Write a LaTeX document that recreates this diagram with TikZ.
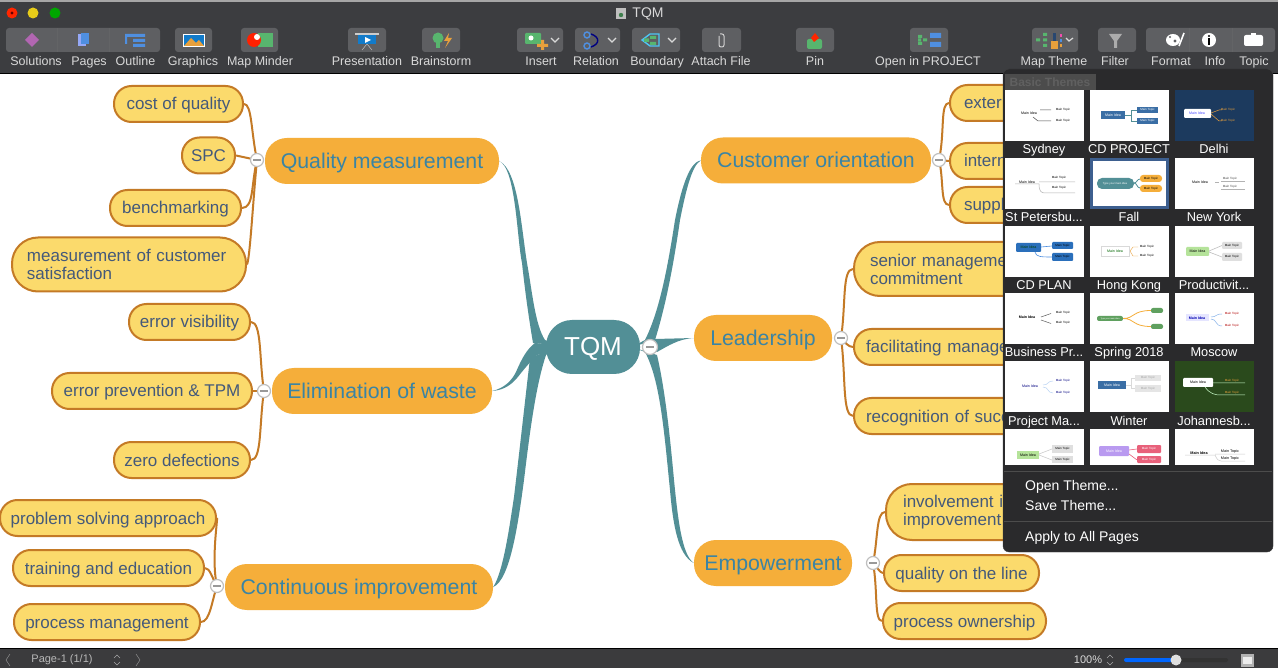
\documentclass[tikz,border=0pt]{standalone}
\usepackage{fontspec}
\setmainfont{Liberation Sans}
\usetikzlibrary{calc}
\pgfdeclarelayer{bg}
\pgfsetlayers{bg,main}
\definecolor{teal}{HTML}{528F96}
\definecolor{twigc}{HTML}{C47A26}
\definecolor{leaff}{HTML}{FBDA6C}
\definecolor{mainf}{HTML}{F5AE3A}
\definecolor{leaft}{HTML}{44597A}
\definecolor{maint}{HTML}{3A84A4}
\definecolor{barc}{HTML}{3C3D40}
\definecolor{btnc}{HTML}{5E5F62}
\definecolor{lblc}{HTML}{D9D9D9}
\definecolor{popc}{HTML}{2A2A2C}
\definecolor{icb}{HTML}{4F8FE0}
\definecolor{icg}{HTML}{58B56E}
\definecolor{ico}{HTML}{E8A03C}
\definecolor{thnavy}{HTML}{1C3A5E}
\definecolor{thjo}{HTML}{2A4A1C}
\definecolor{thcdp}{HTML}{3A6EA5}
\definecolor{thcdl}{HTML}{2A6FBB}
\definecolor{thgrn}{HTML}{B5E39A}
\definecolor{thpur}{HTML}{B99AF0}
\definecolor{thpnk}{HTML}{E8607A}
\definecolor{thsel}{HTML}{3D5F8F}
\definecolor{thspr}{HTML}{5FA05F}
\newcommand\dd{...}
\newcounter{nn}
\newcommand\T[4]{\stepcounter{nn}\node[inner sep=0pt,text=#3,font=\fontsize{#4}{#4}\selectfont] (n\arabic{nn}) at (#1) {#2};}
\newcommand\TB[4]{\stepcounter{nn}\node[inner sep=0pt,text=#3,font=\fontsize{#4}{#4}\selectfont\bfseries] (n\arabic{nn}) at (#1) {#2};}
\newcommand\BT[3]{\fill[#3] (#1) rectangle (#2);}
\newcommand\BB[3]{\fill[#3,rounded corners=1pt] (#1) rectangle (#2);}
\newcommand\Mi[2]{\T{#1}{Main Idea}{#2}{3.6}}
\newcommand\Mt[2]{\T{#1}{Main Topic}{#2}{3}}
\newcommand\Thumb[4]{%
  \fill[#3] (#1,#2) rectangle +(79,51);
  \begin{scope}[shift={(#1,#2)}]#4\end{scope}}
\newcommand\Thumbs[4]{%
  \fill[#3] (#1,#2) rectangle +(79,36);
  \begin{scope}[shift={(#1,#2)}]#4\end{scope}}
\newcommand\Btn[2]{\fill[btnc,rounded corners=3pt] (#1,28) rectangle (#2,52);}
\tikzset{
  leaf/.style={draw=twigc,line width=2pt,fill=leaff,rounded corners=17.5pt,minimum height=36pt,inner sep=0pt,text height=16pt,text depth=4pt,text=leaft,font=\fontsize{17}{18}\selectfont},
  twolines/.style={text height={},text depth={},rounded corners=26pt,minimum height=54pt,align=left},
  topic/.style={fill=mainf,rounded corners=22pt,minimum height=46pt,inner sep=0pt,text height=20pt,text depth=5pt,text=maint,font=\fontsize{21.3}{24}\selectfont},
  hub/.style={fill=teal,rounded corners=26pt,minimum height=54pt,minimum width=94pt,inner sep=0pt,text height=22pt,text depth=4pt,text=white,font=\fontsize{26}{28}\selectfont},
  collapse/.style={circle,draw=gray!50,line width=1.2pt,fill=white,minimum size=13pt,inner sep=0pt,
    path picture={\fill[gray!80] ($(path picture bounding box.center)+(-4,-1)$) rectangle ($(path picture bounding box.center)+(4,1)$);}},
  twig/.style={draw=twigc,line width=2pt},
  taper/.style={fill=teal}
}
\begin{document}
\begin{tikzpicture}[x=1pt,y=-1pt]
\useasboundingbox (0,0) rectangle (1278,668);
\begin{pgfonlayer}{bg}
\fill[white] (0,0) rectangle (1278,668);
\end{pgfonlayer}

% ---- hub and topics
\node[hub] (tqm) at (593,347) {TQM};
\node[topic,minimum width=234pt] (q) at (382,161) {Quality measurement};
\node[topic,minimum width=220pt] (e) at (382,391) {Elimination of waste};
\node[topic,minimum width=268pt] (c) at (359,587) {Continuous improvement};
\node[topic,minimum width=230pt] (co) at (816,160.5) {Customer orientation};
\node[topic,minimum width=138pt] (l) at (763,338) {Leadership};
\node[topic,minimum width=158pt] (em) at (773,563) {Empowerment};

% ---- leaves, left
\node[leaf,minimum width=129pt] (a1) at (178.5,104) {cost of quality};
\node[leaf,minimum width=53pt] (a2) at (208.5,155.5) {SPC};
\node[leaf,minimum width=131pt] (a3) at (175.5,208) {benchmarking};
\node[leaf,twolines,anchor=west,inner xsep=15pt,text width=204pt] (a4) at (11,264.5) {measurement of customer\\satisfaction};
\node[leaf,minimum width=121pt] (a5) at (189.5,322) {error visibility};
\node[leaf,minimum width=200pt] (a6) at (152,391) {error prevention \& TPM};
\node[leaf,minimum width=136pt] (a7) at (182,460) {zero defections};
\node[leaf,minimum width=216pt] (a8) at (108,518) {problem solving approach};
\node[leaf,minimum width=191pt] (a9) at (108.5,568) {training and education};
\node[leaf,minimum width=186pt] (a10) at (107,622) {process management};

% ---- leaves, right (their right parts lie under the theme panel)
\node[leaf,anchor=west,inner xsep=14pt,text width=123pt,align=left] (b1) at (949,103) {exter};
\node[leaf,anchor=west,inner xsep=14pt,text width=123pt,align=left] (b2) at (949,161) {intern};
\node[leaf,anchor=west,inner xsep=14pt,text width=123pt,align=left] (b3) at (949,205) {suppl};
\node[leaf,twolines,anchor=west,inner xsep=16pt,text width=200pt] (b4) at (853,269) {senior manageme\\commitment};
\node[leaf,anchor=west,inner xsep=12pt,text width=210pt,align=left] (b5) at (853,347) {facilitating manage};
\node[leaf,anchor=west,inner xsep=12pt,text width=210pt,align=left] (b6) at (853,416) {recognition of succ};
\node[leaf,twolines,anchor=west,minimum height=56pt,inner xsep=17pt,text width=180pt] (b7) at (885,512) {involvement i\\improvement};
\node[leaf,minimum width=155pt] (b8) at (961.5,573) {quality on the line};
\node[leaf,minimum width=163pt] (b9) at (964.5,621) {process ownership};

% ---- collapse buttons
\node[collapse] (c1) at (257,160) {};
\node[collapse] (c2) at (264,391) {};
\node[collapse] (c3) at (217,586) {};
\node[collapse] (c4) at (939,160) {};
\node[collapse] (c5) at (841,338) {};
\node[collapse] (c6) at (873,563) {};
\node[collapse,minimum size=15pt] (c0) at (650,347) {};

\begin{pgfonlayer}{bg}
% tapered main branches
\fill[taper] (q.east) .. controls (516,168) and (517,240) .. (522,263) .. controls (526,300) and (530,325) .. (533,343) -- (555,345) -- (545,340) .. controls (535,325) and (532,290) .. (527,263) .. controls (521,225) and (518,170) .. (q.east) -- cycle;
\fill[taper] (e.east) .. controls (505,388) and (512,380) .. (516,372) .. controls (522,358) and (527,349) .. (535,343) -- (555,345) -- (550,352) -- (537,355) .. controls (530,362) and (526,367) .. (521,373) .. controls (513,384) and (505,390) .. (e.east) -- cycle;
\fill[taper] (c.east) .. controls (503,572) and (509,530) .. (514,497) .. controls (519,455) and (524,410) .. (530,358) -- (555,348) -- (546,355) .. controls (536,385) and (530,430) .. (524,480) .. controls (518,525) and (510,580) .. (c.east) -- cycle;
\fill[taper] (co.west) .. controls (688,162) and (680,195) .. (675,220) .. controls (668,265) and (660,310) .. (645,340) -- (632,347) -- (655,340) .. controls (666,305) and (674,262) .. (680,220) .. controls (686,190) and (692,165) .. (co.west) -- cycle;
\fill[taper] (l.west) -- (655,339) -- (645,350) -- (657,352) .. controls (668,346) and (678,339) .. (l.west) -- cycle;
\fill[taper] (em.west) .. controls (678,555) and (673,525) .. (670,490) .. controls (664,430) and (660,380) .. (645,352) -- (632,347) -- (657,355) .. controls (664,385) and (669,425) .. (674,480) .. controls (678,520) and (682,555) .. (em.west) -- cycle;
% twigs
\draw[twig] (c1.center) .. controls (251,132) and (252,104) .. (a1.east);
\draw[twig] (c1.center) -- (a2.east);
\draw[twig] (c1.center) .. controls (251,185) and (254,208) .. (a3.east);
\draw[twig] (c1.center) .. controls (253,200) and (250,258) .. (a4.east);
\draw[twig] (c2.center) .. controls (259,360) and (262,322) .. (a5.east);
\draw[twig] (c2.center) -- (a6.east);
\draw[twig] (c2.center) .. controls (259,425) and (262,460) .. (a7.east);
\draw[twig] (c3.center) .. controls (211,560) and (218,518) .. (a8.east);
\draw[twig] (c3.center) .. controls (212,578) and (210,568) .. (a9.east);
\draw[twig] (c3.center) .. controls (212,600) and (210,622) .. (a10.east);
\draw[twig] (c4.center) .. controls (945,132) and (940,103) .. (b1.west);
\draw[twig] (c4.center) -- (b2.west);
\draw[twig] (c4.center) .. controls (944,180) and (940,205) .. (b3.west);
\draw[twig] (c5.center) .. controls (846,305) and (842,269) .. (b4.west);
\draw[twig] (c5.center) .. controls (845,342) and (848,347) .. (b5.west);
\draw[twig] (c5.center) .. controls (846,375) and (842,416) .. (b6.west);
\draw[twig] (c6.center) .. controls (878,540) and (876,512) .. (b7.west);
\draw[twig] (c6.center) .. controls (877,567) and (880,573) .. (b8.west);
\draw[twig] (c6.center) .. controls (878,590) and (874,621) .. (b9.west);
\end{pgfonlayer}

% ---- title bar and toolbar
\fill[barc] (0,0) rectangle (1278,73);
\fill[gray!70] (0,0) rectangle (1278,2);
\fill[black] (0,73) rectangle (1278,74.5);
\fill[red!70!orange] (12,13) circle (5.5);
\fill[red!40!black] (12,13) circle (1.6);
\fill[yellow!80!orange!90!black] (33,13) circle (5.5);
\fill[green!65!black] (55,13) circle (5.5);
\fill[gray!50] (616,8) rectangle (626,19);
\fill[icg!70!black] (621,15) circle (2.2);
\T{648,13.5}{TQM}{lblc}{14}

\fill[btnc,rounded corners=3pt] (6,28) rectangle (160,52);
\draw[barc!80!white] (57,28) -- (57,52) (109,28) -- (109,52);
\Btn{175}{212}\Btn{241}{278}\Btn{348}{386}\Btn{422}{460}
\Btn{517}{563}\Btn{575}{620}\Btn{632}{680}\Btn{702}{741}
\Btn{796}{834}\Btn{910}{948}\Btn{1032}{1078}\Btn{1098}{1136}
\fill[btnc,rounded corners=3pt] (1146,28) rectangle (1275,52);
\draw[barc!80!white] (1189,28) -- (1189,52) (1232,28) -- (1232,52);

% icons
\fill[violet!60!white] (32,33) -- (39,40) -- (32,47) -- (25,40) -- cycle;
\fill[blue!30!white!70!icb] (78,34) rectangle (86,46); \fill[icb] (81,33) rectangle (89,44);
\fill[icb] (125,34) rectangle (145,37) (133,39) rectangle (145,42) (133,44) rectangle (145,47) (125,34) rectangle (127,44);
\fill[white] (183,34) rectangle (205,47); \fill[cyan!60!blue] (184,35) rectangle (204,46);
\fill[ico] (184,46) -- (191,38) -- (196,43) -- (199,40) -- (204,46) -- cycle;
\fill[icg] (258,33) rectangle (273,47);
\fill[red!75!orange] (254,40) circle (7); \fill[white] (257,37) circle (3);
\fill[gray!40] (355,33) rectangle (379,35);
\fill[cyan!60!blue] (358,35) rectangle (376,44);
\fill[white] (365,37) -- (371,40) -- (365,43) -- cycle;
\draw[gray!40] (367,44) -- (362,50) (367,44) -- (372,50);
\fill[icg] (438,38) circle (5.5); \fill[icg] (436,43) rectangle (440,48);
\fill[ico] (449,33) -- (444,41) -- (448,41) -- (445,48) -- (452,38) -- (448,38) -- cycle;
\fill[icg,rounded corners=1pt] (525,33) rectangle (541,44); \fill[white] (531,38) circle (2.5);
\fill[ico] (541,40) rectangle (544,50) (537,44) rectangle (548,47);
\draw[lblc,line width=1.2pt] (551,38) -- (555,42) -- (559,38);
\draw[icb,line width=1.4pt] (587,35) circle (3) (587,46) circle (3);
\draw[blue!50!black,line width=1.4pt] (591,34) .. controls (600,37) and (600,44) .. (591,47);
\draw[lblc,line width=1.2pt] (608,38) -- (612,42) -- (616,38);
\draw[cyan!70!white,line width=1.4pt] (642,40) -- (650,34) -- (659,34) -- (659,46) -- (650,46) -- cycle;
\fill[icg] (650,36) rectangle (656,39) (650,42) rectangle (656,45) (644,38.5) rectangle (649,42);
\draw[lblc,line width=1.2pt] (668,38) -- (672,42) -- (676,38);
\draw[gray!35!white,line width=1pt,rounded corners=2pt] (719,36) -- (719,47) -- (724,47) -- (724,34) -- (720,34);
\fill[icg,rounded corners=2pt] (807,39) rectangle (822,49);
\fill[red!70!orange] (815,33) -- (819,38) -- (814,42) -- (811,38) -- cycle;
\fill[icg] (918,35) rectangle (922,38) (918,42) rectangle (922,45) (923,38.5) rectangle (927,41.5) (918,38.5) rectangle (921,41.5);
\fill[icb] (930,33) rectangle (941,38) (930,42) rectangle (941,47);
\fill[icg] (1036,38.5) rectangle (1040,41.5) (1043,33) rectangle (1047,36) (1043,38.5) rectangle (1047,41.5) (1043,44) rectangle (1047,47);
\fill[ico] (1051,41) rectangle (1058,49); \fill[icb!50!black] (1053,33) rectangle (1056,41);
\fill[magenta!70] (1060,34) rectangle (1062,37); \fill[icb] (1060,39) rectangle (1062,42); \fill[ico] (1060,44) rectangle (1062,47);
\draw[lblc,line width=1.2pt] (1066,38) -- (1069,41) -- (1073,38);
\fill[gray!65!white] (1109,34) -- (1122,34) -- (1117,41) -- (1117,48) -- (1114,48) -- (1114,41) -- cycle;
\fill[white] (1173,40) ellipse (7 and 6); \fill[btnc] (1175,41) circle (1.6) (1170,37) circle (1.2);
\draw[white,line width=1.6pt] (1179,46) -- (1184,33);
\fill[white] (1209,40) circle (7); \fill[black] (1208,38.5) rectangle (1210,45); \fill[black] (1209,36) circle (1.1);
\fill[white,rounded corners=2pt] (1244,35) rectangle (1263,46); \fill[white] (1251,33) rectangle (1256,37);

\foreach \nm/\px/\tx in {l1/36/Solutions,l2/89/Pages,l3/135.5/Outline,l4/193/Graphics,l5/260/Map Minder,l6/367/Presentation,l7/441/Brainstorm,l8/541/Insert,l9/596/Relation,l10/657/Boundary,l11/721/Attach File,l12/815/Pin,l13/928/Open in PROJECT,l14/1054/Map Theme,l15/1115/Filter,l16/1171/Format,l17/1215/Info,l18/1254/Topic}
  {\node[inner sep=0pt,text height=10pt,text depth=3pt,text=lblc,font=\fontsize{12.5}{14}\selectfont] (\nm) at (\px,62.5) {\tx};}

% ---- status bar
\fill[popc!80!gray] (0,649) rectangle (1278,668);
\fill[black] (0,647.5) rectangle (1278,649);
\draw[gray!70] (10,654) -- (6,660) -- (10,666);
\T{62,660}{Page-1 (1/1)}{lblc!85!black}{11}
\draw[gray!70] (114,658) -- (117,655) -- (120,658) (114,662) -- (117,665) -- (120,662);
\draw[gray!70] (136,654) -- (140,660) -- (136,666);
\T{1088,660}{100\%}{lblc}{11}
\draw[gray!70] (1107,658) -- (1110,655) -- (1113,658) (1107,662) -- (1110,665) -- (1113,662);
\fill[gray!40!black,rounded corners=2pt] (1124,658) rectangle (1228,662);
\fill[blue!60!cyan,rounded corners=2pt] (1124,658) rectangle (1176,662);
\fill[gray!25] (1176,660) circle (5.5);
\fill[gray!60] (1241,654) rectangle (1254,667); \fill[white!85!gray] (1243,657) rectangle (1252,664);

% ---- theme panel
\fill[popc,rounded corners=6pt] (1003,69) rectangle (1273,552);
\draw[gray!50!black,rounded corners=6pt] (1003,69) rectangle (1273,552);
\fill[gray!60!black] (1005,74) rectangle (1096,90);
\TB{1050,82}{Basic Themes}{gray!75!black}{12}

\Thumb{1005}{90}{white}{\Mi{24,23}{black}\Mt{58,20}{black}\Mt{58,31}{black}
  \draw[gray!60!black,line width=.5pt] (35,20) -- (46,20) (28,27) -- (33,31) -- (46,31);}
\Thumb{1090}{90}{white}{\draw[teal,line width=.6pt] (35,25) -- (41,25) -- (41,20) -- (47,20) (41,25) -- (41,31) -- (47,31);
  \BT{11,21}{35,29}{thcdp}\Mi{23,25}{white}\BT{47,17}{68,23}{thcdp}\Mt{57.5,20}{white}\BT{47,28}{68,34}{thcdp}\Mt{57.5,31}{white}}
\Thumb{1175}{90}{thnavy}{\draw[ico,line width=.5pt] (36,23) -- (44,20) -- (47,20) (36,24) -- (44,31) -- (47,31);
  \BB{9,19}{36,28}{white}\Mi{22,23.5}{blue!70!white}\Mt{53,20}{ico}\Mt{53,31}{ico}}
\Thumb{1005}{158}{white}{\Mi{22,24}{black}\Mt{54,20}{black}\Mt{54,30}{black}
  \draw[gray!60,line width=.5pt] (10,26) -- (34,26) (34,24) -- (70,24) (34,26) .. controls (34,33) and (36,35) .. (40,35) -- (70,35);}
\fill[white] (1090,158) rectangle +(79,51);
\draw[thsel,line width=2.5pt] (1091.5,159.5) rectangle (1167.5,207.5);
\begin{scope}[shift={(1090,158)}]
  \draw[teal,line width=.8pt] (44,25) .. controls (47,25) and (47,21) .. (50,21) (44,25) .. controls (47,25) and (47,30) .. (50,30);
  \fill[teal,rounded corners=5pt] (7,20) rectangle (44,31);
  \T{25,25.5}{Type your main idea}{white}{2.7}
  \fill[mainf,rounded corners=3pt] (50,17) rectangle (72,24); \Mt{61,20.5}{black}
  \fill[mainf,rounded corners=3pt] (50,27) rectangle (72,34); \Mt{61,30.5}{black}
\end{scope}
\Thumb{1175}{158}{white}{\Mi{25,24}{black}\Mt{55,21}{gray!60!black}\Mt{55,29}{gray!60!black}
  \draw[gray!60,line width=.4pt] (40,24) -- (44,24) (46,23.5) -- (70,23.5) (46,31) -- (70,31);}
\Thumb{1005}{226}{white}{\draw[icb,line width=.6pt] (36,21) -- (47,20) (30,26) .. controls (31,31) and (36,31) .. (47,31);
  \fill[thcdl,rounded corners=1pt] (11,17) rectangle (36,26);\Mi{23.5,21.5}{green!25!black}
  \BB{47,16}{68,23}{thcdl}\Mt{57.5,19.5}{black}\BB{47,27}{68,35}{thcdl}\Mt{57.5,31}{black}}
\Thumb{1090}{226}{white}{\draw[ico,line width=.4pt] (40,25) -- (43,21) -- (48,21) (40,25) -- (43,30) -- (48,30);
  \draw[gray!30,line width=.4pt] (11,20) rectangle (39,30);\Mi{25,25}{green!40!black}\Mt{57,21}{black}\Mt{57,30}{black}}
\Thumb{1175}{226}{white}{\draw[gray!50,line width=.6pt] (34,25) -- (47,19.5) (34,26) -- (47,31);
  \BB{11,21}{34,30}{thgrn}\Mi{22.5,25.5}{black}\BB{47,16}{67,23}{gray!25}\Mt{57,19.5}{black}\BB{47,27}{67,35}{gray!25}\Mt{57,31}{black}}
\Thumb{1005}{293}{white}{\TB{22,24}{Main Idea}{black}{3.6}\Mt{58,20}{black}\Mt{58,30}{black}
  \draw[gray!70!black,line width=.5pt] (36,24) -- (46,20.5) (36,27) -- (46,30.5);}
\Thumb{1090}{293}{white}{\draw[mainf,line width=.8pt] (33,25.5) .. controls (45,25.5) and (42,17.5) .. (61,17.5) (33,25.5) .. controls (45,25.5) and (42,33.5) .. (61,33.5);
  \fill[thspr,rounded corners=2pt] (7,23) rectangle (33,28);\T{20,25.5}{Type your main idea}{white}{2.1}
  \fill[thspr,rounded corners=2pt] (61,15) rectangle (73,20);\fill[thspr,rounded corners=2pt] (61,31) rectangle (73,36);}
\Thumb{1175}{293}{white}{\draw[icb!70!white,line width=.5pt] (36,24) .. controls (42,24) and (40,21) .. (47,21) (36,26) .. controls (42,26) and (40,33) .. (47,33);
  \BT{11,21}{34,28}{blue!10!white}\TB{22,25}{Main Idea}{blue!70!black}{3.6}\Mt{57,21}{red!70!black}\Mt{57,33}{red!70!black}}
\Thumb{1005}{361}{white}{\draw[icb!40!white,line width=.5pt] (38,24) .. controls (44,24) and (42,20) .. (48,20) (38,26) .. controls (44,26) and (42,32) .. (48,32);
  \Mi{25,25}{blue!50!black}\Mt{58,20}{blue!50!black}\Mt{58,32}{blue!50!black}}
\Thumb{1090}{361}{white}{\draw[gray!30,line width=.6pt] (36,24) -- (41,24) -- (41,17) -- (45,17) (41,24) -- (41,27) -- (45,27);
  \BT{8,20}{36,28}{thcdp}\Mi{22,24}{white}\BT{45,14}{71,20}{gray!20}\Mt{58,17}{gray!70}\BT{45,24}{71,31}{gray!20}\Mt{58,27.5}{gray!70}}
\Thumb{1175}{361}{thjo}{\draw[white!80!green,line width=.5pt] (38,22) -- (70,22) (30,26) .. controls (35,33) and (40,34) .. (46,34) -- (70,34);
  \BB{8,17}{38,26}{white}\Mi{23,21.5}{black}\Mt{57,20}{ico}\Mt{57,32}{ico}}
\Thumbs{1005}{429}{white}{\draw[gray!40,line width=.6pt] (34,25) -- (47,20) (34,26) -- (47,31);
  \BT{12,22}{34,30}{thgrn}\Mi{23,26}{black}\BT{47,16}{68,24}{gray!25}\Mt{57.5,20}{black}\BT{47,27}{68,34}{gray!25}\Mt{57.5,30.5}{black}}
\Thumbs{1090}{429}{white}{\draw[thpnk,line width=.6pt] (39,21) -- (47,20) (39,25) -- (47,31);
  \BB{9,17}{39,27}{thpur}\Mi{24,22}{white}\BB{47,16}{71,24}{thpnk}\Mt{59,20}{white}\BB{47,27}{71,34}{thpnk}\Mt{59,30.5}{white}}
\Thumbs{1175}{429}{white}{\draw[gray!40,line width=.5pt] (10,26) -- (40,26) (40,25) -- (70,25) (40,26) .. controls (42,31) and (44,32) .. (46,32) -- (70,32);
  \TB{24,24}{Main Idea}{black}{3.8}\T{55,23}{Main Topic}{black}{3.8}\T{55,30}{Main Topic}{black}{3.8}}

\foreach \nm/\px/\py/\tx in {t1/1044/149.5/Sydney,t2/1129/149.5/CD PROJECT,t3/1214/149.5/Delhi,t4/1044/217.5/St Petersbu\dd,t5/1129/217.5/Fall,t6/1214/217.5/New York,t7/1044/285.5/CD PLAN,t8/1129/285.5/Hong Kong,t9/1214/285.5/Productivit\dd,t10/1044/353/Business Pr\dd,t11/1129/353/Spring 2018,t12/1214/353/Moscow,t13/1044/421/Project Ma\dd,t14/1129/421/Winter,t15/1214/421/Johannesb\dd}
  {\node[inner sep=0pt,text height=11pt,text depth=3pt,text=white,font=\fontsize{12.8}{15}\selectfont] (\nm) at (\px,\py) {\tx};}

\fill[popc] (1003.5,465) rectangle (1272.5,472);
\draw[gray!60!black,line width=1.2pt] (1004,471.5) -- (1272,471.5);
\draw[gray!60!black,line width=1.2pt] (1004,521.5) -- (1272,521.5);
\node[inner sep=0pt,anchor=west,text=white,font=\fontsize{14}{16}\selectfont] (m1) at (1025,486.5) {Open Theme\dd};
\node[inner sep=0pt,anchor=west,text=white,font=\fontsize{14}{16}\selectfont] (m2) at (1025,505.5) {Save Theme\dd};
\node[inner sep=0pt,anchor=west,text=white,font=\fontsize{14}{16}\selectfont] (m3) at (1025,537.5) {Apply to All Pages};
\end{tikzpicture}
\end{document}
